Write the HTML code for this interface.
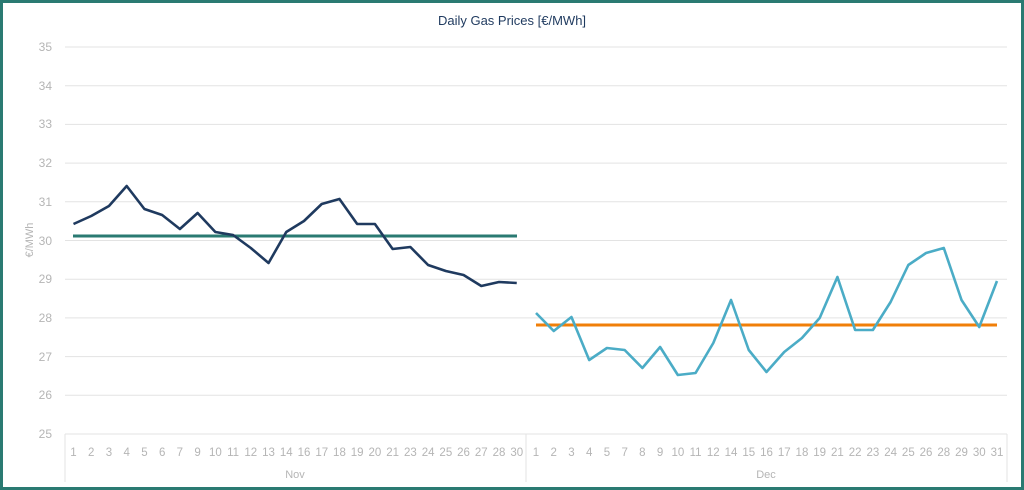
<!DOCTYPE html>
<html><head><meta charset="utf-8"><style>
html,body{margin:0;padding:0;background:#fff}
svg{display:block;font-family:"Liberation Sans",sans-serif}
</style></head><body>
<svg width="1024" height="490" viewBox="0 0 1024 490">
<rect x="1.5" y="1.5" width="1021" height="487" fill="#fff" stroke="#2a7a72" stroke-width="3"/>
<text x="512" y="25" text-anchor="middle" font-size="13" fill="#1f3a5f">Daily Gas Prices [€/MWh]</text>
<g stroke="#e3e3e3" stroke-width="1">
<line x1="65" x2="1007" y1="47" y2="47"/><line x1="65" x2="1007" y1="85.7" y2="85.7"/>
<line x1="65" x2="1007" y1="124.4" y2="124.4"/><line x1="65" x2="1007" y1="163.1" y2="163.1"/>
<line x1="65" x2="1007" y1="201.8" y2="201.8"/><line x1="65" x2="1007" y1="240.5" y2="240.5"/>
<line x1="65" x2="1007" y1="279.2" y2="279.2"/><line x1="65" x2="1007" y1="317.9" y2="317.9"/>
<line x1="65" x2="1007" y1="356.6" y2="356.6"/><line x1="65" x2="1007" y1="395.3" y2="395.3"/>
<line x1="65" x2="1007" y1="434" y2="434"/>
<line x1="65" x2="65" y1="434" y2="482"/><line x1="526" x2="526" y1="434" y2="482"/><line x1="1007" x2="1007" y1="434" y2="482"/>
</g>
<g font-size="12" fill="#b5b5b5" text-anchor="end">
<text x="52" y="51">35</text><text x="52" y="90">34</text><text x="52" y="128">33</text><text x="52" y="167">32</text>
<text x="52" y="206">31</text><text x="52" y="245">30</text><text x="52" y="283">29</text><text x="52" y="322">28</text>
<text x="52" y="361">27</text><text x="52" y="399">26</text><text x="52" y="438">25</text>
</g>
<text transform="translate(33,240) rotate(-90)" text-anchor="middle" font-size="11" fill="#b5b5b5">€/MWh</text>
<g font-size="11.5" fill="#b5b5b5" text-anchor="middle" id="lbl"></g>
<text x="295" y="478" text-anchor="middle" font-size="11" fill="#b5b5b5">Nov</text>
<text x="766" y="478" text-anchor="middle" font-size="11" fill="#b5b5b5">Dec</text>
<line x1="73" x2="517" y1="236" y2="236" stroke="#2a7a72" stroke-width="3"/>
<line x1="536" x2="997" y1="325" y2="325" stroke="#f07f09" stroke-width="3"/>
<polyline id="nov" fill="none" stroke="#1f3a5f" stroke-width="2.6" stroke-linejoin="round"/>
<polyline id="dec" fill="none" stroke="#4bacc6" stroke-width="2.6" stroke-linejoin="round"/>
</svg>
<script>
var nl=[1,2,3,4,5,6,7,9,10,11,12,13,14,16,17,18,19,20,21,23,24,25,26,27,28,30];
var nv=[224,216,206,186,209,215,229,213,232,235,248,263,232,221,204,199,224,224,249,247,265,271,275,286,282,283];
var dl=[1,2,3,4,5,7,8,9,10,11,12,14,15,16,17,18,19,21,22,23,24,25,26,28,29,30,31];
var dv=[313,331,317,360,348,350,368,347,375,373,343,300,350,372,352,338,318,277,330,330,302,265,253,248,300,327,281];
var g=document.getElementById('lbl'),s=17.73,ns="http://www.w3.org/2000/svg",p=[],q=[];
function t(x,v){var e=document.createElementNS(ns,'text');e.setAttribute('x',x);e.setAttribute('y',456);e.textContent=v;g.appendChild(e);}
nl.forEach(function(v,i){var x=73.5+s*i;t(x,v);p.push(x+','+nv[i]);});
dl.forEach(function(v,i){var x=536+s*i;t(x,v);q.push(x+','+dv[i]);});
document.getElementById('nov').setAttribute('points',p.join(' '));
document.getElementById('dec').setAttribute('points',q.join(' '));
</script>
</body></html>
